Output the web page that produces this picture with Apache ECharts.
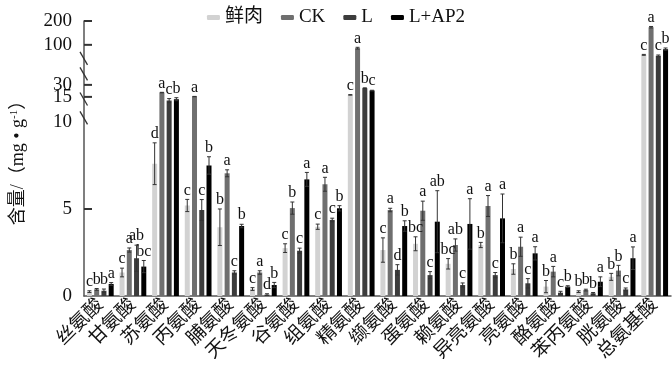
<!DOCTYPE html>
<html>
<head>
<meta charset="utf-8">
<script src="https://cdn.jsdelivr.net/npm/echarts@6/dist/echarts.min.js"></script>
<style>html,body{margin:0;padding:0;background:#fff}#c{width:672px;height:387px}</style>
</head>
<body>
<div id="c"></div>
<script>
// ---- data ----
const categories = ['丝氨酸','甘氨酸','苏氨酸','丙氨酸','脯氨酸','天冬氨酸','谷氨酸','组氨酸','精氨酸','缬氨酸','蛋氨酸','赖氨酸','异亮氨酸','亮氨酸','酪氨酸','苯丙氨酸','胱氨酸','总氨基酸'];
const seriesNames = ['鲜肉','CK','L','L+AP2'];
const freshMeat = [0.25,1.35,7.6,5.2,3.95,0.4,2.75,3.98,17.5,2.64,3.0,1.85,2.93,1.55,0.54,0.25,1.1,82.5];
const ckVals    = [0.38,2.64,20.4,15.4,7.05,1.35,5.05,6.42,94.2,4.94,4.9,2.93,5.17,2.83,1.4,0.34,1.46,174];
const lVals     = [0.3,2.17,14.26,4.94,1.35,0.08,2.6,4.37,25.9,1.5,1.2,0.63,1.2,0.73,0.19,0.15,0.38,80.75];
const lap2Vals  = [0.69,1.69,14.54,7.5,4.02,0.63,6.7,5.04,22.9,4.02,4.27,4.14,4.46,2.45,0.54,0.82,2.17,92.5];
const freshErr  = [0.05,0.25,1.2,0.35,1.05,0.08,0.25,0.15,0.3,0.7,0.4,0.3,0.15,0.3,0.35,0.05,0.2,0.8];
const ckErr     = [0.05,0.12,0.3,0.2,0.2,0.1,0.35,0.4,1.5,0.1,0.55,0.35,0.6,0.55,0.3,0.05,0.3,3];
const lErr      = [0.1,0.75,0.4,0.6,0.1,0.05,0.15,0.1,0.4,0.3,0.2,0.12,0.15,0.27,0.08,0.05,0.08,1.5];
const lap2Err   = [0.08,0.35,0.3,0.5,0.1,0.15,0.4,0.15,0.4,0.3,1.78,1.45,1.4,0.38,0.05,0.28,0.65,2];
const freshSig  = ['c','c','d','c','b','c','c','c','c','c','bc','bc','b','b','b','b','b','c'];
const ckSig     = ['b','a','a','a','a','a','b','a','a','a','a','ab','a','a','a','b','b','a'];
const lSig      = ['b','ab','c','c','c','d','c','c','b','d','c','c','c','c','c','b','c','c'];
const lap2Sig   = ['a','bc','b','b','b','b','a','b','c','b','ab','a','a','a','b','a','a','b'];
// broken axis: real values and their positions on the drawn scale
const breakReal = [0,10,15,30,100,200];
const breakPos  = [0,10,11.44,12.13,14.43,15.8];
const tickReal  = [0,5,10,15,30,100,200];
const tickLabels = ['0','5','10','15','30','100','200'];
const tickMarkReal = [5,15,30,100,200];
const slashPos  = [10.23,11.32,12.76,13.65];

function T(v){
  if (v <= 0) return 0;
  for (let k = 1; k < breakReal.length; k++) {
    if (v <= breakReal[k]) {
      const a = breakReal[k-1], b = breakReal[k];
      return breakPos[k-1] + (v - a) / (b - a) * (breakPos[k] - breakPos[k-1]);
    }
  }
  return breakPos[breakPos.length-1];
}
const tickPos = tickReal.map(T);

const colors = ['#d2d2d2','#6f6f6f','#3c3c3c','#000000'];
const allVals = [freshMeat, ckVals, lVals, lap2Vals];
const allErr = [freshErr, ckErr, lErr, lap2Err];
const allSig = [freshSig, ckSig, lSig, lap2Sig];
const BAR_W = 5, GAP = 0.45;
const serif = "'Liberation Serif','Noto Sans CJK SC',serif";

const chart = echarts.init(document.getElementById('c'));
const series = [];
seriesNames.forEach((n, s) => {
  series.push({
    name: n, type: 'bar', barWidth: BAR_W, barGap: (GAP*100)+'%',
    itemStyle: {color: colors[s]},
    data: allVals[s].map(T), z: 2
  });
});
seriesNames.forEach((n, s) => {
  series.push({
    type: 'custom', z: 5, silent: true,
    data: allVals[s].map((v, i) => [i, T(v)]),
    renderItem: function(params, api){
      const i = params.dataIndex;
      const v = allVals[s][i], e = allErr[s][i];
      const off = (s - 1.5) * BAR_W * (1 + GAP);
      const x = api.coord([i, 0])[0] + off;
      const yt = api.coord([i, T(v + e)])[1];
      const yb = api.coord([i, T(Math.max(v - e, 0))])[1];
      const st = {stroke: '#333', lineWidth: 1};
      return {type: 'group', children: [
        {type: 'line', shape: {x1: x, y1: yt, x2: x, y2: yb}, style: st},
        {type: 'line', shape: {x1: x-2, y1: yt, x2: x+2, y2: yt}, style: st},
        {type: 'line', shape: {x1: x-2, y1: yb, x2: x+2, y2: yb}, style: st},
        {type: 'text', x: x, y: yt - 1, style: {text: allSig[s][i], fill: '#111', font: "16px " + serif, align: 'center', verticalAlign: 'bottom'}}
      ]};
    }
  });
});
// inside ticks + break marks on the broken y axis
series.push({
  type: 'custom', z: 20, silent: true, clip: false,
  data: [[0, 0]],
  renderItem: function(params, api){
    const x0 = params.coordSys.x;
    const kids = [];
    tickMarkReal.forEach(v => {
      const y = api.coord([0, T(v)])[1];
      kids.push({type: 'rect', shape: {x: x0, y: y - 1, width: 8, height: 2},
                 style: {fill: '#333', stroke: null}});
    });
    slashPos.forEach(t => {
      const y = api.coord([0, t])[1];
      kids.push({type: 'polyline', shape: {points: [[x0 - 4, y - 6.5], [x0 + 3.5, y + 6.5]]},
                 style: {stroke: '#333', lineWidth: 1.3, fill: null}});
    });
    return {type: 'group', children: kids};
  }
});

chart.setOption({
  animation: false,
  color: colors,
  legend: {
    data: seriesNames, top: 3, left: 'center', itemWidth: 13, itemHeight: 5, itemGap: 18,
    icon: 'roundRect',
    textStyle: {fontFamily: serif, fontSize: 19, color: '#111'}
  },
  grid: {left: 84, right: 1, top: 21, bottom: 91},
  xAxis: {
    type: 'category', data: categories,
    axisLine: {lineStyle: {color: '#555', width: 1.5}},
    axisTick: {show: false},
    axisLabel: {interval: 0, rotate: 45, fontSize: 19, fontFamily: serif, color: '#111', margin: 6}
  },
  yAxis: {
    type: 'value', min: 0, max: breakPos[breakPos.length-1],
    name: '{a|含量/（mg • g}{s|-1}{a|）}', nameLocation: 'middle', nameGap: 56, nameRotate: 90,
    nameTextStyle: {rich: {
      a: {fontSize: 18, fontFamily: serif, color: '#111'},
      s: {fontSize: 11, fontFamily: serif, color: '#111', verticalAlign: 'top', padding: [0,0,8,0]}
    }},
    splitLine: {show: false},
    axisLine: {show: true, lineStyle: {color: '#555', width: 1.5}},
    axisTick: {show: false},
    axisLabel: {
      customValues: tickPos, fontSize: 19, fontFamily: serif, color: '#111', margin: 12,
      formatter: function(val){
        let best = 0;
        tickPos.forEach((p, k) => { if (Math.abs(p - val) < Math.abs(tickPos[best] - val)) best = k; });
        return tickLabels[best];
      }
    }
  },
  series: series
});
</script>
</body>
</html>
